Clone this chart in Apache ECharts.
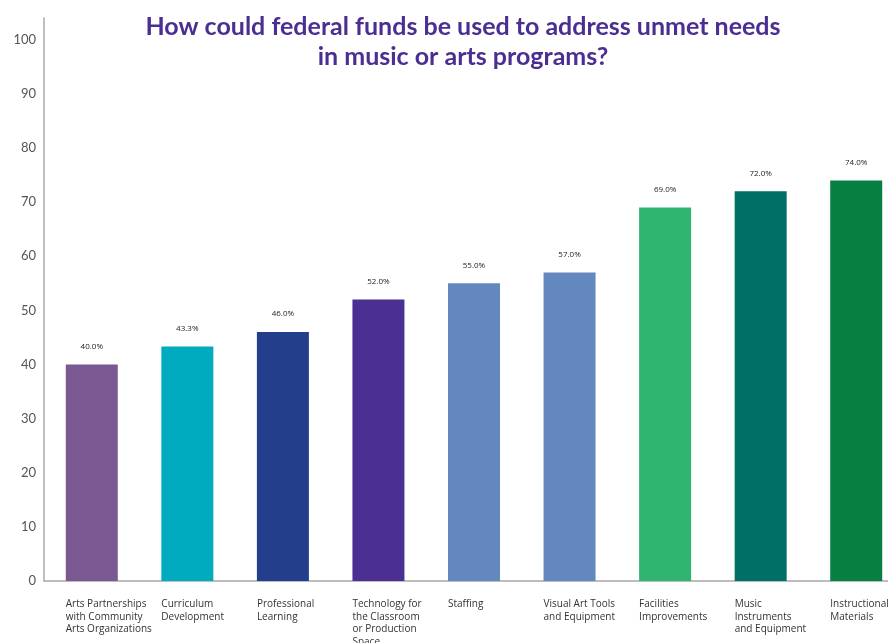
<!DOCTYPE html>
<html>
<head>
<meta charset="utf-8">
<script src="https://cdn.jsdelivr.net/npm/echarts@6/dist/echarts.min.js"></script>
<style>
  html, body { margin: 0; padding: 0; background: #ffffff; }
  #chart { width: 888px; height: 643px; }
</style>
</head>
<body>
<div id="chart"></div>
<script>
// Survey categories (bottom axis), in display order
const categories = [
  'Arts Partnerships\nwith Community\nArts Organizations',
  'Curriculum\nDevelopment',
  'Professional\nLearning',
  'Technology for\nthe Classroom\nor Production\nSpace',
  'Staffing',
  'Visual Art Tools\nand Equipment',
  'Facilities\nImprovements',
  'Music\nInstruments\nand Equipment',
  'Instructional\nMaterials'
];

// Share of respondents, percent
const percentValues = [40.0, 43.3, 46.0, 52.0, 55.0, 57.0, 69.0, 72.0, 74.0];

// One fill per category
const barColors = [
  '#7a5891', '#00abbf', '#233e8b', '#4b2f92', '#6387bf',
  '#6387bf', '#30b56f', '#006f65', '#077f40'
];

// Value axis ticks
const yTicks = [0, 10, 20, 30, 40, 50, 60, 70, 80, 90, 100];

const chart = echarts.init(document.getElementById('chart'), null, { renderer: 'canvas' });

chart.setOption({
  animation: false,
  backgroundColor: '#ffffff',
  title: {
    text: 'How could federal funds be used to address unmet needs\nin music or arts programs?',
    left: 458,
    top: 7,
    textAlign: 'center',
    textStyle: {
      fontFamily: 'Lato',
      fontWeight: 'bold',
      fontSize: 25,
      lineHeight: 30,
      color: '#4b2e91'
    }
  },
  grid: {
    left: 44,
    top: 18,
    right: -16,
    bottom: 62,
    outerBoundsMode: 'none',
    containLabel: false
  },
  xAxis: {
    type: 'category',
    data: categories,
    axisLine: { show: true, lineStyle: { color: '#a8a8a8', width: 1.5 } },
    axisTick: { show: false },
    axisLabel: {
      interval: 0,
      hideOverlap: false,
      align: 'left',
      verticalAlign: 'top',
      padding: [0, 0, 0, -26],
      margin: 17,
      fontFamily: 'Open Sans',
      fontSize: 10,
      lineHeight: 12.5,
      color: '#333333'
    }
  },
  yAxis: {
    type: 'value',
    min: 0,
    max: 104,
    interval: 10,
    axisLine: { show: true, lineStyle: { color: '#a8a8a8', width: 1.5 } },
    axisTick: { show: false },
    splitLine: { show: false },
    axisLabel: {
      showMaxLabel: false,
      margin: 8,
      fontFamily: 'Lato',
      fontSize: 13,
      color: '#555555',
      formatter: function (v) { return yTicks.indexOf(v) >= 0 ? String(v) : ''; }
    }
  },
  series: [{
    type: 'bar',
    barWidth: 52,
    data: percentValues.map(function (v, i) {
      return { value: v, itemStyle: { color: barColors[i] } };
    }),
    label: {
      show: true,
      position: 'top',
      distance: 14,
      fontFamily: 'Open Sans',
      fontSize: 8,
      color: '#222222',
      formatter: function (p) { return p.value.toFixed(1) + '%'; }
    }
  }]
});
</script>
</body>
</html>
